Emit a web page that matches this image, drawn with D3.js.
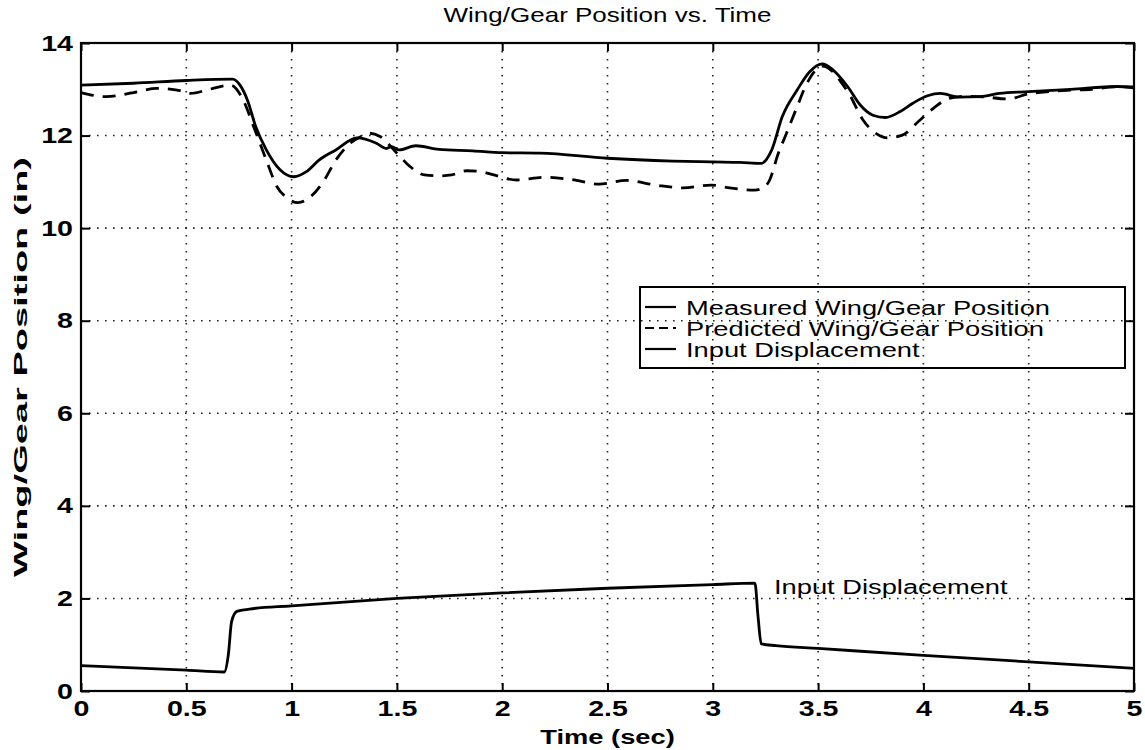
<!DOCTYPE html>
<html>
<head>
  <meta charset="utf-8">
  <title>Wing/Gear Position vs. Time</title>
  <script src="https://cdn.jsdelivr.net/npm/d3@7"></script>
  <style>
    body { margin: 0; background: #fff; }
    svg { display: block; }
    text { font-family: "Liberation Sans", Arial, Helvetica, sans-serif; fill: #000; }
  </style>
</head>
<body>
  <div id="chart"></div>

  <script>
    // values
    const measuredTime = [0, 0.25, 0.5, 0.72, 0.755, 0.79, 0.83, 0.88, 0.945, 1.01, 1.07, 1.13, 1.21, 1.31, 1.40, 1.45, 1.475, 1.51, 1.59, 1.70, 1.86, 2.0, 2.18, 2.5, 2.81, 3.0, 3.13, 3.23, 3.28, 3.33, 3.40, 3.46, 3.52, 3.57, 3.64, 3.70, 3.76, 3.82, 3.89, 3.95, 4.02, 4.08, 4.17, 4.27, 4.36, 4.5, 4.7, 4.92, 5.0];
    const measuredPos = [13.09, 13.13, 13.19, 13.22, 13.09, 12.77, 12.19, 11.69, 11.26, 11.11, 11.22, 11.47, 11.69, 11.95, 11.84, 11.72, 11.76, 11.69, 11.78, 11.70, 11.67, 11.63, 11.62, 11.51, 11.45, 11.43, 11.42, 11.40, 11.69, 12.41, 12.98, 13.38, 13.55, 13.42, 13.06, 12.66, 12.44, 12.39, 12.52, 12.70, 12.86, 12.91, 12.83, 12.84, 12.91, 12.95, 13.0, 13.06, 13.03];

    const predictedTime = [0, 0.12, 0.25, 0.36, 0.47, 0.52, 0.61, 0.71, 0.77, 0.82, 0.88, 0.93, 0.98, 1.03, 1.09, 1.15, 1.21, 1.28, 1.33, 1.37, 1.42, 1.50, 1.56, 1.63, 1.70, 1.76, 1.83, 1.90, 1.96, 2.07, 2.2, 2.33, 2.46, 2.59, 2.73, 2.86, 2.99, 3.08, 3.20, 3.23, 3.27, 3.31, 3.35, 3.40, 3.44, 3.49, 3.52, 3.57, 3.61, 3.65, 3.71, 3.78, 3.83, 3.90, 3.98, 4.05, 4.12, 4.2, 4.3, 4.4, 4.5, 4.6, 4.7, 4.8, 4.9, 5.0];
    const predictedPos = [12.93, 12.84, 12.93, 13.02, 12.97, 12.91, 13.0, 13.09, 12.77, 12.19, 11.47, 10.9, 10.65, 10.55, 10.68, 11.0, 11.47, 11.84, 11.98, 12.05, 11.98, 11.62, 11.34, 11.15, 11.13, 11.15, 11.24, 11.22, 11.15, 11.04, 11.1, 11.05, 10.95, 11.03, 10.93, 10.87, 10.93, 10.87, 10.82, 10.85, 11.04, 11.6, 12.05, 12.62, 13.06, 13.42, 13.50, 13.38, 13.15, 12.88, 12.36, 12.03, 11.95, 12.01, 12.32, 12.6, 12.8, 12.85, 12.83, 12.79, 12.9, 12.95, 12.98, 13.0, 13.05, 13.05];

    const inputTime = [0, 0.5, 0.68, 0.70, 0.715, 0.74, 0.8, 1.0, 1.5, 2.0, 2.5, 3.0, 3.2, 3.215, 3.23, 3.3, 3.5, 4.0, 4.5, 5.0];
    const inputPos = [0.55, 0.45, 0.41, 0.8, 1.5, 1.72, 1.77, 1.84, 2.0, 2.12, 2.22, 2.3, 2.33, 1.6, 1.02, 0.98, 0.92, 0.77, 0.63, 0.49];

    const xTicks = [0, 0.5, 1, 1.5, 2, 2.5, 3, 3.5, 4, 4.5, 5];
    const yTicks = [0, 2, 4, 6, 8, 10, 12, 14];
    const legendNames = ["Measured Wing/Gear Position", "Predicted Wing/Gear Position", "Input Displacement"];
    const legendDash = [null, "13,9", null];

    // page setup
    const width = 1145, height = 750;
    const margin = { top: 43, right: 11, bottom: 59, left: 81 };
    const sx = 1.3; // the scan is stretched sideways, so is its lettering

    const svg = d3.select("#chart")
      .append("svg")
        .attr("width", width)
        .attr("height", height);

    const x = d3.scaleLinear()
      .domain([0, 5])
      .range([margin.left, width - margin.right]);
    const y = d3.scaleLinear()
      .domain([0, 14])
      .range([height - margin.bottom, margin.top]);

    // writes text stretched horizontally like the original
    function label(g, str, px, py, size, weight, anchor) {
      return g.append("text")
        .attr("transform", "translate(" + px + "," + py + ") scale(" + sx + ",1)")
        .attr("text-anchor", anchor || "start")
        .style("font-size", size + "px")
        .style("font-weight", weight || "normal")
        .text(str);
    }

    // dotted grid
    const grid = svg.append("g").attr("class", "grid");
    grid.selectAll(".vgrid")
      .data(xTicks.slice(1, -1))
      .enter().append("line")
        .attr("x1", d => x(d)).attr("x2", d => x(d))
        .attr("y1", y(14)).attr("y2", y(0));
    grid.selectAll(".hgrid")
      .data(yTicks.slice(1, -1))
      .enter().append("line")
        .attr("x1", x(0)).attr("x2", x(5))
        .attr("y1", d => y(d)).attr("y2", d => y(d));
    grid.selectAll("line")
      .attr("stroke", "#222")
      .attr("stroke-width", 1.6)
      .attr("stroke-dasharray", "1.6,6.4");

    // axes with inward ticks on all four sides
    const xAxis = svg.append("g")
      .attr("transform", "translate(0," + y(0) + ")")
      .call(d3.axisBottom(x).tickValues(xTicks).tickSize(-8).tickPadding(9).tickFormat(d3.format("")));
    const yAxis = svg.append("g")
      .attr("transform", "translate(" + x(0) + ",0)")
      .call(d3.axisLeft(y).tickValues(yTicks).tickSize(-9).tickPadding(8));
    svg.append("g")
      .attr("transform", "translate(0," + y(14) + ")")
      .call(d3.axisTop(x).tickValues(xTicks).tickSize(-8).tickFormat(""));
    svg.append("g")
      .attr("transform", "translate(" + x(5) + ",0)")
      .call(d3.axisRight(y).tickValues(yTicks).tickSize(-9).tickFormat(""));

    svg.selectAll(".domain").remove();
    svg.selectAll(".tick line")
      .attr("stroke", "#000")
      .attr("stroke-width", 2);
    svg.selectAll(".tick text")
      .style("font-size", "22px")
      .style("font-weight", "bold")
      .style("font-family", "'Liberation Sans', Arial, sans-serif")
      .attr("fill", "#000");
    xAxis.selectAll(".tick text")
      .attr("transform", "scale(" + sx + ",1)");
    yAxis.selectAll(".tick text")
      .attr("x", -8 / sx)
      .attr("transform", "scale(" + sx + ",1)");

    // box
    svg.append("rect")
      .attr("x", x(0))
      .attr("y", y(14))
      .attr("width", x(5) - x(0))
      .attr("height", y(0) - y(14))
      .attr("fill", "none")
      .attr("stroke", "#000")
      .attr("stroke-width", 2.2);

    // series
    const line = d3.line()
      .x(d => x(d[0]))
      .y(d => y(d[1]))
      .curve(d3.curveMonotoneX);

    const series = [
      d3.zip(measuredTime, measuredPos),
      d3.zip(predictedTime, predictedPos),
      d3.zip(inputTime, inputPos)
    ];

    svg.selectAll(".series")
      .data(series)
      .enter().append("path")
        .attr("class", "series")
        .attr("d", line)
        .attr("fill", "none")
        .attr("stroke", "#000")
        .attr("stroke-width", 2.8)
        .attr("stroke-linejoin", "round")
        .attr("stroke-dasharray", (d, i) => legendDash[i]);

    // legend (transparent, grid shows through)
    const legend = svg.append("g").attr("class", "legend");
    legend.append("rect")
      .attr("x", 640)
      .attr("y", 287)
      .attr("width", 485)
      .attr("height", 81)
      .attr("fill", "none")
      .attr("stroke", "#000")
      .attr("stroke-width", 2);
    legendNames.forEach(function(name, i) {
      let ly = 307 + i * 21;
      legend.append("line")
        .attr("x1", 645).attr("x2", 676)
        .attr("y1", ly).attr("y2", ly)
        .attr("stroke", "#000")
        .attr("stroke-width", 2.2)
        .attr("stroke-dasharray", legendDash[i] ? "9,5" : null);
      label(legend, name, 686, ly + 7.5, 21, "normal");
    });

    // annotations
    label(svg, "Input Displacement", 774, 594, 21, "normal");
    label(svg, "Wing/Gear Position vs. Time", (x(0) + x(5)) / 2, 22, 20, "normal", "middle");
    label(svg, "Time (sec)", (x(0) + x(5)) / 2, 744, 21, "bold", "middle");

    // y label: narrow glyphs drawn long, as in the scan
    svg.append("text")
      .attr("transform", "translate(27," + y(7) + ") rotate(-90)")
      .attr("text-anchor", "middle")
      .attr("textLength", 420)
      .attr("lengthAdjust", "spacingAndGlyphs")
      .style("font-size", "19px")
      .style("font-weight", "bold")
      .text("Wing/Gear Position (in)");
  </script>
</body>
</html>
